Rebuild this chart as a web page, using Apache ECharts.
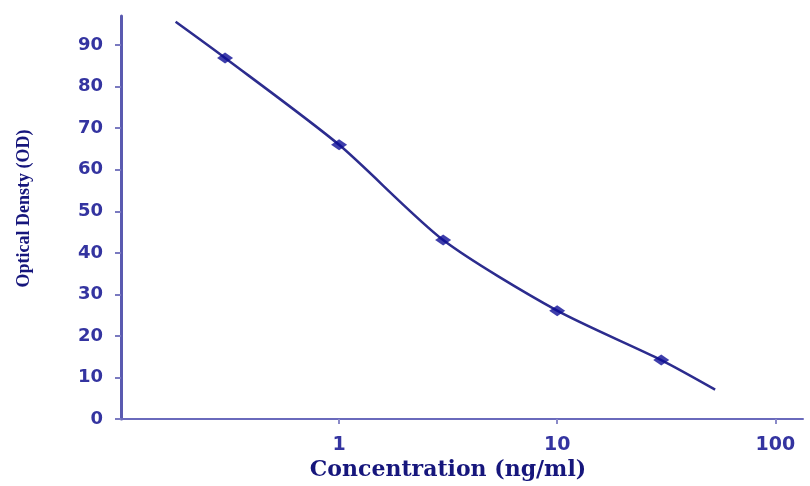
<!DOCTYPE html>
<html>
<head>
<meta charset="utf-8">
<script src="https://cdn.jsdelivr.net/npm/echarts@6/dist/echarts.min.js"></script>
<style>
html,body{margin:0;padding:0;background:#fff;overflow:hidden;}
#c{width:810px;height:486px;}
</style>
</head>
<body>
<div id="c"></div>
<script>
// Data
const curveX = [0.178, 0.3, 1, 3, 10, 30, 53];
const curveY = [95.6, 86.9, 66.0, 43.1, 26.1, 14.2, 7.1];
const pointX = [0.3, 1, 3, 10, 30];
const pointY = [86.9, 66.0, 43.1, 26.1, 14.2];
const xTickLabels = [1, 10, 100];
const yTickLabels = [0, 10, 20, 30, 40, 50, 60, 70, 80, 90];

const chart = echarts.init(document.getElementById('c'), null, {renderer: 'canvas', width: 810, height: 486});

const curveData = curveX.map((x, i) => [x, curveY[i]]);
const pointData = pointX.map((x, i) => [x, pointY[i]]);

const labelColor = '#3434a0';

chart.setOption({
  animation: false,
  backgroundColor: '#ffffff',
  grid: {left: 121, width: 682, top: 16, height: 409, containLabel: false},
  xAxis: {
    type: 'log',
    logBase: 10,
    min: 0.1,
    max: 134,
    name: 'Concentration (ng/ml)',
    nameLocation: 'middle',
    nameGap: 37,
    nameTextStyle: {
      fontFamily: 'DejaVu Serif',
      fontWeight: 'bold',
      fontSize: 22,
      color: '#16167c',
      padding: [0, 28, 0, 0]
    },
    axisLine: {show: true, onZero: false, lineStyle: {color: '#6a6abc', width: 2}},
    axisTick: {show: true, length: 5, lineStyle: {color: '#8a8ac8', width: 2}},
    splitLine: {show: false},
    minorTick: {show: false},
    axisLabel: {
      margin: 16,
      fontFamily: 'DejaVu Sans',
      fontWeight: 'bold',
      fontSize: 19,
      color: labelColor,
      showMinLabel: false,
      showMaxLabel: false,
      formatter: function (v) {
        const r = Math.round(v);
        return xTickLabels.indexOf(r) >= 0 && Math.abs(v - r) < 1e-6 ? String(r) : '';
      }
    }
  },
  yAxis: {
    type: 'value',
    min: 0,
    max: 97,
    interval: 10,
    name: 'Optical Densty (OD)',
    nameLocation: 'middle',
    nameGap: 88,
    nameRotate: 90,
    nameTextStyle: {
      fontFamily: 'Liberation Serif',
      fontWeight: 'bold',
      fontSize: 18,
      color: '#16167c',
      padding: [0, 0, 0, 18]
    },
    axisLine: {show: true, lineStyle: {color: '#5a5ab0', width: 3}},
    axisTick: {show: true, length: 6, lineStyle: {color: '#7a7ac0', width: 2}},
    splitLine: {show: false},
    axisLabel: {
      margin: 18,
      fontFamily: 'DejaVu Sans',
      fontWeight: 'bold',
      fontSize: 18,
      color: labelColor,
      showMaxLabel: false,
      formatter: function (v) {
        return yTickLabels.indexOf(v) >= 0 ? String(v) : '';
      }
    }
  },
  series: [
    {
      type: 'line',
      data: curveData,
      smooth: 0.25,
      showSymbol: false,
      symbol: 'none',
      lineStyle: {color: '#2c2c8e', width: 2.5},
      z: 2
    },
    {
      type: 'scatter',
      data: pointData,
      symbol: 'diamond',
      symbolSize: [16, 11],
      itemStyle: {color: '#0e0e96'},
      z: 3
    }
  ]
});
</script>
</body>
</html>
